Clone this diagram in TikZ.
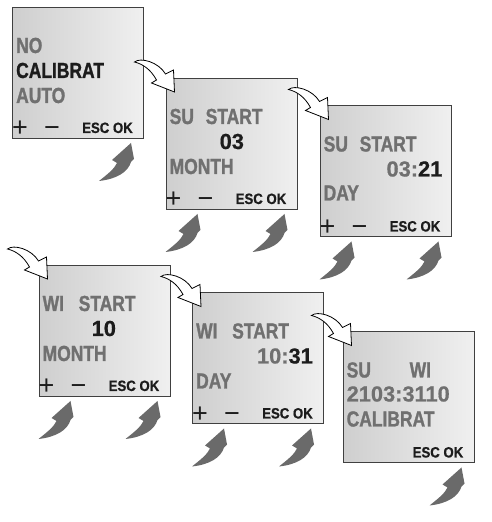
\documentclass[tikz,border=0pt]{standalone}
\usepackage{fontspec}
\setmainfont{Liberation Sans}
\newfontfamily\lcdfont[FakeStretch=0.8, FakeBold=1.2]{Liberation Sans Bold}
\newfontfamily\numfont[FakeBold=0.6]{Liberation Sans Bold}
\newfontfamily\keyfont[FakeStretch=0.88, FakeBold=0.6]{Liberation Sans Bold}
\usetikzlibrary{positioning}

\definecolor{lcdgray}{HTML}{707070}
\definecolor{lcdink}{HTML}{1C1C1C}
\definecolor{pressgray}{HTML}{6A6A6A}

\tikzset{
  display/.style={draw=black!75, line width=1pt, left color=black!19, right color=black!6,
    minimum width=131pt, minimum height=131pt, inner sep=0pt},
  lcd/.style={anchor=base west, inner sep=0pt, text=lcdgray,
    font=\lcdfont\fontsize{21.8}{24}\selectfont},
  lcdnum/.style={anchor=base west, inner sep=0pt, text=lcdink,
    font=\numfont\fontsize{21.8}{24}\selectfont},
  keys/.style={anchor=base east, inner sep=0pt, text=lcdink,
    font=\keyfont\fontsize{15}{17}\selectfont},
  sign/.style={anchor=base, inner sep=0pt, text=lcdink, font=\fontsize{27}{29}\selectfont},
  pics/press/.style={code={
    \fill[pressgray] (0,0) -- (3,-16) -- (0,-19) .. controls (-3,-29) and (-14,-36) .. (-32,-38)
      .. controls (-22,-30) and (-17,-26) .. (-14,-20) -- (-19,-17) -- cycle;}},
  pics/turn/.style={code={
    \filldraw[fill=white, draw=black, line width=0.8pt] (-40,30) .. controls (-34,35) and (-16,30) .. (-9,18)
      -- (-1,22) -- (0,0) -- (-23,9) -- (-18,12) .. controls (-24,23) and (-32,28) .. (-40,30) -- cycle;}}
}

\begin{document}
\begin{tikzpicture}[x=1pt, y=1pt]
    \useasboundingbox (0,0) rectangle (492,522);
    % the six displays
    \node[display] (d1) at (78,449) {};
    \node[display] (d2) at (231.5,378) {};
    \node[display] (d3) at (385.5,350.5) {};
    \node[display] (d4) at (104.5,191) {};
    \node[display] (d5) at (258,163.5) {};
    \node[display] (d6) at (408.5,124.5) {};

    % display 1
    \node[lcd] (no) at ([shift={(4,-46)}]d1.north west) {NO};
    \node[lcd, text=lcdink] (cal) at ([shift={(4,-71)}]d1.north west) {CALIBRAT};
    \node[lcd] (auto) at ([shift={(4,-96)}]d1.north west) {AUTO};

    % display 2
    \node[lcd] (su2) at ([shift={(4,-46)}]d2.north west) {\makebox[36pt][l]{SU}START};
    \node[lcdnum] (mo2) at ([shift={(54,-71)}]d2.north west) {03};
    \node[lcd] (mon2) at ([shift={(4,-96)}]d2.north west) {MONTH};

    % display 3
    \node[lcd] (su3) at ([shift={(4,-46)}]d3.north west) {\makebox[36pt][l]{SU}START};
    \node[lcdnum, anchor=base east] (dy3) at ([shift={(123,-71)}]d3.north west) {\textcolor{lcdgray}{03:}21};
    \node[lcd] (day3) at ([shift={(4,-95)}]d3.north west) {DAY};

    % display 4
    \node[lcd] (wi4) at ([shift={(4,-46)}]d4.north west) {\makebox[36pt][l]{WI}START};
    \node[lcdnum] (mo4) at ([shift={(53,-71)}]d4.north west) {10};
    \node[lcd] (mon4) at ([shift={(4,-96)}]d4.north west) {MONTH};

    % display 5
    \node[lcd] (wi5) at ([shift={(4,-46)}]d5.north west) {\makebox[36pt][l]{WI}START};
    \node[lcdnum, anchor=base east] (dy5) at ([shift={(121,-71)}]d5.north west) {\textcolor{lcdgray}{10:}31};
    \node[lcd] (day5) at ([shift={(4,-96)}]d5.north west) {DAY};

    % display 6
    \node[lcd] (su6) at ([shift={(4,-46)}]d6.north west) {SU};
    \node[lcd] (wi6) at ([shift={(67,-46)}]d6.north west) {WI};
    \node[lcdnum, text=lcdgray] (res6) at ([shift={(4,-70)}]d6.north west) {2103:3110};
    \node[lcd] (cal6) at ([shift={(4,-95)}]d6.north west) {CALIBRAT};

    % keys
    \foreach \i in {1,...,5} {
        \node[sign] (plus\i) at ([shift={(8,2)}]d\i.south west) {+};
        \node[sign] (minus\i) at ([shift={(40,2)}]d\i.south west) {−};
    }
    \foreach \i in {1,...,6}
        \node[keys] (ok\i) at ([shift={(-11,6)}]d\i.south east) {ESC OK};

    % pressing arrows
    \foreach \i in {1,...,6}
        \pic at ([shift={(-13,-4)}]d\i.south east) {press};
    \foreach \i in {2,...,5}
        \pic at ([shift={(32,-4)}]d\i.south west) {press};

    % turning arrows
    \foreach \i in {2,...,6}
        \pic at ([shift={(9,-14)}]d\i.north west) {turn};
\end{tikzpicture}
\end{document}
